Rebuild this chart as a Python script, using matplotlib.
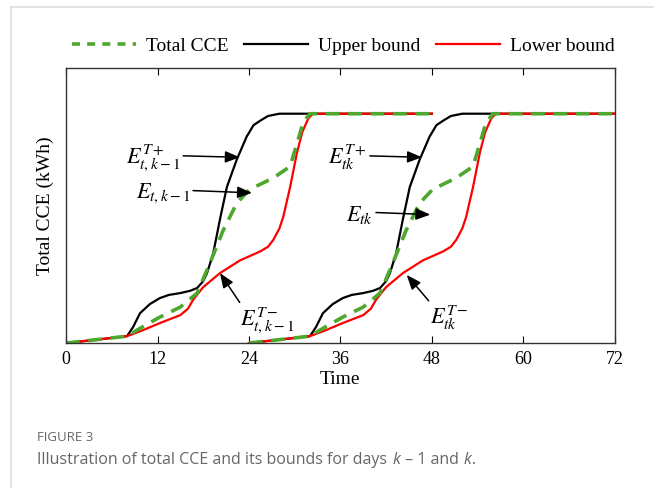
import matplotlib
matplotlib.use('Agg')
import matplotlib.pyplot as plt
from matplotlib.lines import Line2D

plt.rcParams['font.family'] = ['Liberation Serif', 'DejaVu Serif']
plt.rcParams['mathtext.fontset'] = 'stix'

# hour, value for day k-1 (day k is the same profile 24 h later)
upper_t = [0, 3.5, 8, 8.8, 9.7, 11, 12.3, 13.5, 15, 16.3, 17.2, 18, 18.5, 19.3, 20.2,
           21.1, 22.4, 23.7, 24.6, 25.5, 26.5, 28, 48]
upper_e = [0, 0.013, 0.03, 0.07, 0.13, 0.17, 0.196, 0.21, 0.218, 0.228, 0.24, 0.27, 0.305,
           0.39, 0.54, 0.68, 0.8, 0.9, 0.95, 0.97, 0.99, 1.0, 1.0]
lower_t = [0, 3.5, 8, 10, 12.3, 15, 16, 16.7, 18, 20.2, 22.8, 25.5, 26.5, 27.2, 28, 28.5,
           29.4, 30.3, 31, 31.8, 32.4, 48]
lower_e = [0, 0.013, 0.03, 0.055, 0.087, 0.122, 0.15, 0.19, 0.244, 0.305, 0.36, 0.40, 0.42,
           0.45, 0.50, 0.55, 0.68, 0.83, 0.92, 0.98, 1.0, 1.0]
total_t = [0, 3.5, 8, 10, 12.3, 15, 17.2, 18.9, 20.6, 22.4, 24.1, 27.2, 29.4, 30.3, 31.1, 32, 48]
total_e = [0, 0.013, 0.03, 0.07, 0.113, 0.157, 0.218, 0.35, 0.49, 0.61, 0.67, 0.72, 0.77,
           0.87, 0.96, 1.0, 1.0]
day_starts = [0, 24]
xticks = [0, 12, 24, 36, 48, 60, 72]

green = '#4ea72e'
grey = '#666666'

fig = plt.figure(figsize=(6.54, 4.88), dpi=100)
ax = fig.add_axes([0.101, 0.297, 0.839, 0.564])

for d in day_starts:
    ax.plot([t + d for t in upper_t], upper_e, color='black', lw=1.6)
    ax.plot([t + d for t in lower_t], lower_e, color='red', lw=1.6)
    ax.plot([t + d for t in total_t], total_e, color=green, lw=2.6, dashes=(3.8, 2.4))

ax.set_xlim(0, 72)
ax.set_ylim(0, 1.2)
ax.set_xticks(xticks)
ax.set_xticklabels([str(v) for v in xticks], fontsize=13)
ax.set_yticks([])
ax.tick_params(axis='x', direction='in', top=True, length=5, width=0.8, pad=6)
for s in ax.spines.values():
    s.set_linewidth(1.0)
    s.set_color('#333333')
ax.set_xlabel('Time', fontsize=14, labelpad=2)
ax.set_ylabel('Total CCE (kWh)', fontsize=14, labelpad=9)

# annotations
arr = dict(arrowstyle='-|>,head_length=0.55,head_width=0.22', color='black', lw=1.1,
           shrinkA=0, shrinkB=0)
fs = 16
ax.annotate(r'$E_{t,k-1}^{T+}$', xy=(22.8, 0.81), xytext=(15.0, 0.81), fontsize=fs,
            ha='right', va='center', arrowprops=dict(arr, relpos=(1.0, 0.55)))
ax.annotate(r'$E_{t,k-1}$', xy=(24.4, 0.655), xytext=(16.3, 0.655), fontsize=fs,
            ha='right', va='center', arrowprops=dict(arr, relpos=(1.0, 0.6)))
ax.annotate(r'$E_{t,k-1}^{T-}$', xy=(20.2, 0.305), xytext=(22.8, 0.10), fontsize=fs,
            ha='left', va='center', arrowprops=dict(arr, relpos=(0.05, 0.95)))
ax.annotate(r'$E_{tk}^{T+}$', xy=(46.7, 0.81), xytext=(39.5, 0.81), fontsize=fs,
            ha='right', va='center', arrowprops=dict(arr, relpos=(1.0, 0.55)))
ax.annotate(r'$E_{tk}$', xy=(47.8, 0.56), xytext=(40.3, 0.56), fontsize=fs,
            ha='right', va='center', arrowprops=dict(arr, relpos=(1.0, 0.6)))
ax.annotate(r'$E_{tk}^{T-}$', xy=(44.7, 0.297), xytext=(47.8, 0.11), fontsize=fs,
            ha='left', va='center', arrowprops=dict(arr, relpos=(0.05, 0.95)))

handles = [Line2D([], [], color=green, lw=2.6, dashes=(2.2, 2.0)),
           Line2D([], [], color='black', lw=1.6),
           Line2D([], [], color='red', lw=1.6)]
fig.legend(handles, ['Total CCE', 'Upper bound', 'Lower bound'], loc='center',
           bbox_to_anchor=(0.525, 0.906), ncol=3, frameon=False, fontsize=14,
           handlelength=3.3, handletextpad=0.5, columnspacing=0.8)

# page frame and caption
fig.add_artist(Line2D([0.017, 1.0], [0.986, 0.986], color='#dddddd', lw=1.2))
fig.add_artist(Line2D([0.017, 0.017], [0.0, 0.986], color='#dddddd', lw=1.2))
fig.text(0.057, 0.104, 'FIGURE 3', fontsize=9.5, color=grey, family='Open Sans',
         va='center')
cap_parts = [('Illustration of total CCE and its bounds for days ', 'normal'),
             ('k', 'italic'), (' \u2013 1 and ', 'normal'), ('k', 'italic'), ('.', 'normal')]
prev = None
for s, style in cap_parts:
    kw = dict(fontsize=11.5, color=grey, family='Open Sans', style=style, va='baseline')
    if prev is None:
        prev = fig.text(0.057, 0.05, s, **kw)
    else:
        prev = fig.add_artist(plt.Annotation(s, xy=(1, 0), xycoords=prev, xytext=(0.5, 0),
                                             textcoords='offset points', ha='left',
                                             va='bottom', fontsize=11.5, color=grey,
                                             family='Open Sans', style=style))

fig.savefig('out.png', dpi=100)
